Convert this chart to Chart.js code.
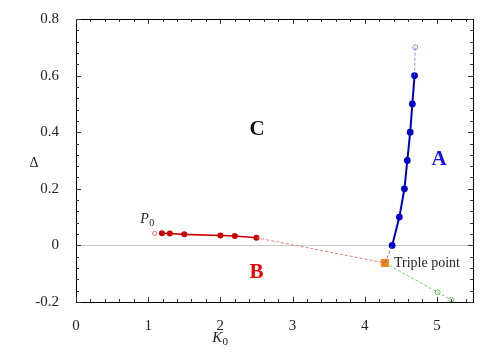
<!DOCTYPE html>
<html>
<head>
<meta charset="utf-8">
<script src="https://cdn.jsdelivr.net/npm/chart.js@4.4.0/dist/chart.umd.min.js"></script>
<style>
html,body{margin:0;padding:0;background:#fff;}
#wrap{width:503px;height:353px;position:relative;}
</style>
</head>
<body>
<div id="wrap"><canvas id="c" width="503" height="353"></canvas></div>
<script>
// ---- Data ----
const phaseA_K = [4.38, 4.48, 4.55, 4.59, 4.63, 4.66, 4.69];
const phaseA_D = [0.0, 0.1, 0.2, 0.3, 0.4, 0.5, 0.6];
const phaseA_ext_K = [4.69, 4.70];
const phaseA_ext_D = [0.6, 0.70];
const phaseB_K = [1.19, 1.30, 1.50, 2.00, 2.20, 2.50];
const phaseB_D = [0.043, 0.042, 0.039, 0.035, 0.033, 0.027];
const P0_K = [1.09];
const P0_D = [0.042];
const triple_K = [4.28];
const triple_D = [-0.062];
const greenExt_K = [5.01, 5.20];
const greenExt_D = [-0.166, -0.192];
const xTickValues = [0, 1, 2, 3, 4, 5];
const yTickValues = [-0.2, 0, 0.2, 0.4, 0.6, 0.8];
const xRange = [0, 5.5];
const yRange = [-0.2, 0.8];

const pts = (xs, ys) => xs.map((x, i) => ({x, y: ys[i]}));
const serif = "'Liberation Serif', 'DejaVu Serif', serif";

const redDash = [pts(phaseB_K, phaseB_D).slice(-1)[0], pts(triple_K, triple_D)[0]];
const blueDash1 = [pts(triple_K, triple_D)[0], pts(phaseA_K, phaseA_D)[0]];
const greenDash = pts(triple_K, triple_D).concat(pts(greenExt_K, greenExt_D));

const framePlugin = {
  id: 'frame',
  beforeDatasetsDraw(chart) {
    const {ctx, chartArea: a, scales: {x, y}} = chart;
    ctx.save();
    ctx.strokeStyle = '#c8c8c8';
    ctx.lineWidth = 1;
    const y0 = Math.round(y.getPixelForValue(0)) + 0.5;
    ctx.beginPath(); ctx.moveTo(a.left, y0); ctx.lineTo(a.right, y0); ctx.stroke();
    ctx.restore();
  },
  afterDraw(chart) {
    const {ctx, chartArea: a, scales: {x, y}} = chart;
    ctx.save();
    ctx.strokeStyle = '#000';
    ctx.lineWidth = 1;
    ctx.strokeRect(a.left + 0.5, a.top + 0.5, a.right - a.left, a.bottom - a.top);
    ctx.strokeStyle = '#333';
    for (let v = xRange[0]; v <= xRange[1] + 1e-9; v += 0.2) {
      const major = Math.abs(v - Math.round(v)) < 1e-6;
      const len = major ? 5 : 3;
      const px = Math.round(x.getPixelForValue(v)) + 0.5;
      ctx.beginPath();
      ctx.moveTo(px, a.bottom); ctx.lineTo(px, a.bottom - len);
      ctx.moveTo(px, a.top); ctx.lineTo(px, a.top + len);
      ctx.stroke();
    }
    for (let v = yRange[0]; v <= yRange[1] + 1e-9; v += 0.04) {
      const r = v / 0.2;
      const major = Math.abs(r - Math.round(r)) < 1e-6;
      const len = major ? 5 : 3;
      const py = Math.round(y.getPixelForValue(v)) + 0.5;
      ctx.beginPath();
      ctx.moveTo(a.left, py); ctx.lineTo(a.left + len, py);
      ctx.moveTo(a.right, py); ctx.lineTo(a.right - len, py);
      ctx.stroke();
    }
    ctx.textAlign = 'center'; ctx.textBaseline = 'middle';
    ctx.font = 'bold 21px ' + serif;
    ctx.fillStyle = '#111';
    ctx.fillText('C', x.getPixelForValue(2.51), y.getPixelForValue(0.408));
    ctx.fillStyle = '#1010f0';
    ctx.fillText('A', x.getPixelForValue(5.03), y.getPixelForValue(0.302));
    ctx.fillStyle = '#ee0000';
    ctx.fillText('B', x.getPixelForValue(2.50), y.getPixelForValue(-0.097));
    ctx.fillStyle = '#222';
    ctx.font = '14px ' + serif;
    ctx.textAlign = 'left';
    ctx.fillText('Triple point', x.getPixelForValue(triple_K[0]) + 9, y.getPixelForValue(triple_D[0]));
    const p0x = x.getPixelForValue(1.0), p0y = y.getPixelForValue(0.092);
    ctx.font = 'italic 14px ' + serif;
    ctx.fillText('P', p0x - 8, p0y);
    ctx.font = '10px ' + serif;
    ctx.fillText('0', p0x + 1, p0y + 4);
    ctx.font = '14px ' + serif;
    ctx.textAlign = 'center';
    ctx.fillText('Δ', 34, y.getPixelForValue(0.29));
    const kx = x.getPixelForValue(2.0), ky = 338;
    ctx.font = 'italic 15px ' + serif;
    ctx.fillText('K', kx - 3, ky);
    ctx.font = '11px ' + serif;
    ctx.fillText('0', kx + 5, ky + 4);
    ctx.restore();
  }
};

new Chart(document.getElementById('c'), {
  type: 'scatter',
  data: {
    datasets: [
      { data: redDash, showLine: true, borderColor: 'rgba(230,90,90,0.8)', borderWidth: 1, borderDash: [3, 2], pointRadius: 0 },
      { data: blueDash1, showLine: true, borderColor: 'rgba(70,90,230,0.8)', borderWidth: 1, borderDash: [3, 2], pointRadius: 0 },
      { data: pts(phaseA_ext_K, phaseA_ext_D), showLine: true, borderColor: 'rgba(90,110,235,0.8)', borderWidth: 1, borderDash: [3, 2], pointRadius: [0, 2.5], pointBackgroundColor: 'rgba(255,255,255,0)', pointBorderColor: '#8d95f0', pointBorderWidth: 1 },
      { data: greenDash, showLine: true, borderColor: 'rgba(100,200,100,0.9)', borderWidth: 1, borderDash: [3, 2], pointRadius: [0, 2.5, 2.5], pointBackgroundColor: 'rgba(255,255,255,0)', pointBorderColor: '#66c466', pointBorderWidth: 1 },
      { data: pts(phaseB_K, phaseB_D), showLine: true, borderColor: '#cc0000', borderWidth: 1.6, pointRadius: 2.2, pointBackgroundColor: '#cc0000', pointBorderColor: '#cc0000' },
      { data: pts(phaseA_K, phaseA_D), showLine: true, borderColor: '#0000cc', borderWidth: 2, pointRadius: 2.4, pointBackgroundColor: '#0000cc', pointBorderColor: '#0000cc' },
      { data: pts(P0_K, P0_D), showLine: false, pointRadius: 2.2, pointBackgroundColor: 'rgba(255,255,255,0)', pointBorderColor: '#e07070', pointBorderWidth: 1 },
      { data: pts(triple_K, triple_D), showLine: false, pointStyle: 'rect', pointRadius: 5, pointBackgroundColor: '#ff7f0e', pointBorderColor: '#ff7f0e' }
    ]
  },
  options: {
    responsive: false,
    animation: false,
    layout: { padding: { top: 19, right: 30, left: 0, bottom: 0 } },
    plugins: { legend: { display: false }, tooltip: { enabled: false } },
    scales: {
      x: {
        type: 'linear', min: xRange[0], max: xRange[1],
        afterBuildTicks: s => { s.ticks = xTickValues.map(v => ({value: v})); },
        afterFit: s => { s.height = 51; },
        grid: { display: false },
        border: { display: false },
        ticks: { color: '#222', padding: 7, font: { family: serif, size: 15 }, callback: v => String(v) }
      },
      y: {
        type: 'linear', min: yRange[0], max: yRange[1],
        afterBuildTicks: s => { s.ticks = yTickValues.map(v => ({value: v})); },
        afterFit: s => { s.width = 76; },
        grid: { display: false },
        border: { display: false },
        ticks: { color: '#222', padding: 9, font: { family: serif, size: 15 }, callback: v => String(Math.round(v * 10) / 10) }
      }
    }
  },
  plugins: [framePlugin]
});
</script>
</body>
</html>
